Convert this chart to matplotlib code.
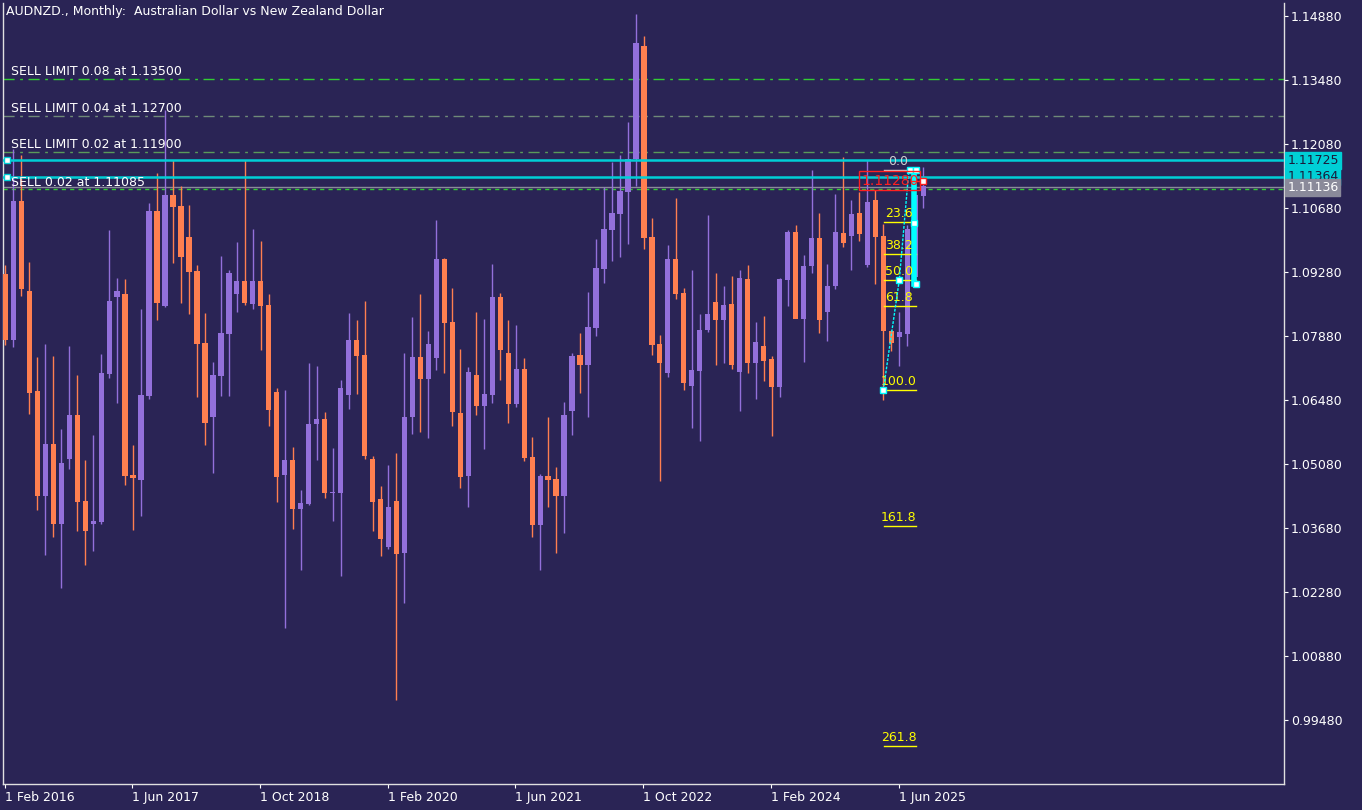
import matplotlib
matplotlib.use("Agg")
import matplotlib.pyplot as plt
import numpy as np

opens = [1.0924,1.0780,1.1083,1.0886,1.0667,1.0438,1.0552,1.0377,1.0519,1.0615,
         1.0428,1.0377,1.0381,1.0705,1.0874,1.0880,1.0484,1.0474,1.0657,1.1062,
         1.0854,1.1097,1.1073,1.1005,1.0930,1.0773,1.0611,1.0701,1.0792,1.0880,
         1.0908,1.0858,1.0908,1.0856,1.0665,1.0484,1.0517,1.0410,1.0420,1.0596,
         1.0607,1.0444,1.0444,1.0659,1.0780,1.0747,1.0519,1.0432,1.0327,1.0428,
         1.0313,1.0611,1.0743,1.0694,1.0739,1.0957,1.0818,1.0619,1.0482,1.0703,
         1.0635,1.0659,1.0874,1.0751,1.0639,1.0716,1.0523,1.0375,1.0482,1.0476,
         1.0438,1.0623,1.0747,1.0725,1.0806,1.0935,1.1019,1.1055,1.1103,1.1176,
         1.1423,1.1005,1.0771,1.0707,1.0957,1.0882,1.0679,1.0712,1.0802,1.0862,
         1.0824,1.0858,1.0709,1.0913,1.0729,1.0765,1.0737,1.0676,1.0911,1.1016,
         1.0826,1.0941,1.1003,1.0840,1.0897,1.1014,1.1007,1.1057,1.0943,1.1086,
         1.1007,1.0798,1.0786,1.0792,1.0917,1.1094]
highs = [1.0943,1.1196,1.1184,1.0949,1.0741,1.0771,1.0745,1.0585,1.0765,1.0703,
         1.0517,1.0572,1.0749,1.1019,1.0915,1.0913,1.0550,1.0846,1.1079,1.1145,
         1.1283,1.1174,1.1117,1.1075,1.0943,1.0838,1.0731,1.0963,1.0933,1.0994,
         1.1174,1.1023,1.0996,1.0880,1.0674,1.0670,1.0546,1.0452,1.0729,1.0723,
         1.0621,1.0544,1.0692,1.0839,1.0824,1.0865,1.0525,1.0460,1.0506,1.0533,
         1.0751,1.0830,1.0880,1.0798,1.1042,1.0959,1.0893,1.0760,1.0721,1.0840,
         1.0826,1.0945,1.0882,1.0822,1.0812,1.0739,1.0568,1.0486,1.0611,1.0502,
         1.0643,1.0751,1.0794,1.0884,1.1001,1.1113,1.1169,1.1184,1.1256,1.1493,
         1.1444,1.1046,1.0790,1.0988,1.1090,1.0893,1.0933,1.0837,1.1053,1.0926,
         1.0897,1.0919,1.0933,1.0943,1.0818,1.0832,1.0745,1.0915,1.1019,1.1031,
         1.0965,1.1152,1.1057,1.0945,1.1099,1.1180,1.1086,1.1103,1.1174,1.1107,
         1.1033,1.0802,1.0840,1.1031,1.1152,1.1158]
lows = [1.0769,1.0763,1.0876,1.0617,1.0408,1.0309,1.0349,1.0237,1.0497,1.0361,
        1.0287,1.0317,1.0377,1.0697,1.0641,1.0462,1.0364,1.0394,1.0651,1.0824,
        1.0852,1.0947,1.0860,1.0837,1.0655,1.0550,1.0488,1.0657,1.0657,1.0840,
        1.0856,1.0848,1.0758,1.0590,1.0425,1.0150,1.0366,1.0275,1.0418,1.0517,
        1.0434,1.0383,1.0262,1.0628,1.0661,1.0519,1.0361,1.0307,1.0322,0.9992,
        1.0204,1.0574,1.0578,1.0564,1.0714,1.0707,1.0590,1.0456,1.0414,1.0615,
        1.0540,1.0641,1.0692,1.0598,1.0633,1.0514,1.0349,1.0277,1.0414,1.0313,
        1.0357,1.0572,1.0663,1.0611,1.0789,1.0904,1.0952,1.0960,1.0990,1.1117,
        1.0979,1.0747,1.0470,1.0699,1.0868,1.0670,1.0587,1.0558,1.0796,1.0725,
        1.0729,1.0716,1.0623,1.0707,1.0651,1.0690,1.0570,1.0655,1.0854,1.0838,
        1.0731,1.0926,1.0794,1.0778,1.0891,1.0982,1.0933,1.0996,1.0939,1.0902,
        1.0648,1.0755,1.0723,1.0765,1.0900,1.1069]
closes = [1.0780,1.1083,1.0891,1.0663,1.0438,1.0552,1.0377,1.0510,1.0615,1.0425,
          1.0361,1.0383,1.0707,1.0865,1.0886,1.0482,1.0478,1.0659,1.1062,1.0860,
          1.1097,1.1071,1.0961,1.0928,1.0771,1.0598,1.0703,1.0794,1.0926,1.0908,
          1.0860,1.0908,1.0854,1.0626,1.0480,1.0517,1.0410,1.0422,1.0596,1.0607,
          1.0444,1.0446,1.0674,1.0780,1.0745,1.0525,1.0425,1.0344,1.0414,1.0311,
          1.0611,1.0743,1.0694,1.0771,1.0957,1.0816,1.0621,1.0480,1.0709,1.0635,
          1.0661,1.0874,1.0758,1.0639,1.0716,1.0521,1.0375,1.0482,1.0474,1.0438,
          1.0615,1.0745,1.0725,1.0808,1.0937,1.1021,1.1057,1.1106,1.1176,1.1429,
          1.1003,1.0769,1.0729,1.0957,1.0880,1.0685,1.0714,1.0802,1.0837,1.0824,
          1.0856,1.0725,1.0915,1.0729,1.0775,1.0734,1.0676,1.0913,1.1016,1.0826,
          1.0941,1.1003,1.0824,1.0897,1.1016,1.0992,1.1055,1.1011,1.1081,1.1005,
          1.0798,1.0773,1.0796,1.1021,1.1097,1.1117]

xtick_idx = [1, 17, 33, 49, 65, 81, 97, 113]
xtick_labels = ["1 Feb 2016", "1 Jun 2017", "1 Oct 2018", "1 Feb 2020",
                "1 Jun 2021", "1 Oct 2022", "1 Feb 2024", "1 Jun 2025"]
yticks = [1.14880, 1.13480, 1.12080, 1.10680, 1.09280, 1.07880,
          1.06480, 1.05080, 1.03680, 1.02280, 1.00880, 0.99480]

order_names = ["SELL LIMIT 0.08 at 1.13500", "SELL LIMIT 0.04 at 1.12700",
               "SELL LIMIT 0.02 at 1.11900", "SELL 0.02 at 1.11085"]
order_prices = [1.13500, 1.12700, 1.11900, 1.11085]
cyan_levels = [1.11725, 1.11364]
bid_price = 1.11136
fib_levels = [0.0, 23.6, 38.2, 50.0, 61.8, 100.0, 161.8, 261.8]
fib_high = 1.1151
fib_low = 1.0670
red_price = 1.11280

BG = "#2a2455"
BULL = "#9370db"
BEAR = "#ff7f50"

fig = plt.figure(figsize=(13.62, 8.10), dpi=100, facecolor=BG)
ax = fig.add_axes([3/1362, 26/810, 1281/1362, 781/810], facecolor=BG)

o = np.array(opens); h = np.array(highs); l = np.array(lows); c = np.array(closes)
x = np.arange(len(o))
cols = np.where(c >= o, BULL, BEAR)
ax.vlines(x, l, h, colors=cols, linewidth=1.0, zorder=2)
bot = np.minimum(o, c)
hgt = np.maximum(np.abs(c - o), 0.0002)
ax.bar(x, hgt, bottom=bot, width=0.66, color=cols, linewidth=0, zorder=3)

ax.set_xlim(-0.3, 160.2)
ax.set_ylim(0.98079, 1.15164)

styles = ["#32cd32", "#6f8a78", "#5a9a5a"]
for i in range(3):
    ax.axhline(order_prices[i], color=styles[i], lw=1.0,
               linestyle=(0, (8, 4, 2, 4)), zorder=1)
ax.axhline(order_prices[3], color="#32cd32", lw=1.0, linestyle=(0, (3, 3)), zorder=1)
ax.axhline(bid_price, color="#8a8a9a", lw=1.0, zorder=1)
for lv in cyan_levels:
    ax.axhline(lv, color="#00cfd6", lw=1.8, zorder=4)
    ax.plot([0.2], [lv], marker="s", ms=5, mfc="white", mec="#00cfd6", zorder=5, clip_on=False)
for name, p in zip(order_names, order_prices):
    ax.text(0.7, p + 0.0002, name, color="white", fontsize=9, va="bottom", ha="left", zorder=6)

rng = fib_high - fib_low
for lv in fib_levels:
    p = fib_high - rng * lv / 100.0
    col = "#d0d0d0" if lv == 0 else "#ffff00"
    ax.plot([110.1, 114.1], [p, p], color=col, lw=1.0, zorder=6)
    ax.text(111.9, p + 0.0004, f"{lv:.1f}", color=col, fontsize=9, ha="center", va="bottom", zorder=7)
ax.plot([110, 112, 113.2], [fib_low, fib_high - rng * 0.5, fib_high], color="#00ffff",
        lw=1.0, linestyle=(0, (2, 1)), zorder=7)
ax.plot([113.8, 113.8], [fib_high, fib_high - rng * 0.52], color="#00ffff", lw=4, zorder=6)
for (px, py) in [(110, fib_low), (112, fib_high - rng * 0.5), (113.3, fib_high),
                 (114.1, fib_high - rng * 0.52), (114.1, fib_high), (113.8, fib_high - rng * 0.24)]:
    ax.plot([px], [py], marker="s", ms=4, mfc="white", mec="#00ffff", zorder=8)
ax.text(110.8, red_price, f"{red_price:.5f}", color="#ff2020", fontsize=10, ha="center", va="center", zorder=8,
        bbox=dict(boxstyle="square,pad=0.15", fc="none", ec="#ff2020", lw=1))
ax.plot([113.5, 115], [red_price, red_price], color="#ff2020", lw=1, zorder=8)
ax.plot([115], [red_price], marker="s", ms=4, mfc="white", mec="#ff2020", zorder=9)

for s in ax.spines.values():
    s.set_color("#e0e0e0"); s.set_linewidth(1)
ax.spines["top"].set_visible(False)
ax.yaxis.tick_right()
ax.set_yticks(yticks)
ax.set_yticklabels([f"{v:.5f}" for v in yticks])
ax.tick_params(axis="y", colors="white", labelsize=9, length=3, direction="out", pad=2)
ax.set_xticks([i - 1.1 for i in xtick_idx])
ax.set_xticklabels(xtick_labels)
ax.tick_params(axis="x", colors="white", labelsize=9, length=3, pad=2)
for t in ax.get_xticklabels():
    t.set_ha("left")

tags = [(cyan_levels[0], "#00cfd6", "#1a1a3a"), (cyan_levels[1], "#00cfd6", "#1a1a3a"),
        (bid_price, "#8a8a9a", "white")]
for p, fc, tc in tags:
    ax.text(1.0025, p, f"{p:.5f}", transform=ax.get_yaxis_transform(), color=tc,
            fontsize=9, ha="left", va="center", zorder=10, clip_on=False,
            bbox=dict(boxstyle="square,pad=0.15", fc=fc, ec=fc))

ax.text(0.002, 0.997, "AUDNZD., Monthly:  Australian Dollar vs New Zealand Dollar",
        transform=ax.transAxes, color="white", fontsize=9, ha="left", va="top")

fig.savefig("out.png", dpi=100, facecolor=BG)
